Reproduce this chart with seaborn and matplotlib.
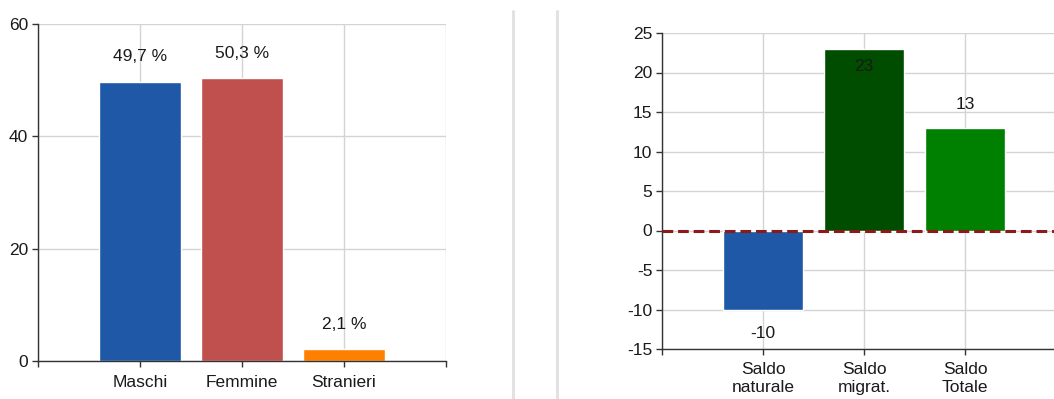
import numpy as np
import pandas as pd
import matplotlib
matplotlib.use("Agg")
import matplotlib.pyplot as plt
import seaborn as sns
from matplotlib.lines import Line2D

# === dati ===
left_categories = ["Maschi", "Femmine", "Stranieri"]
left_values = [49.7, 50.3, 2.1]
left_labels = ["49,7 %", "50,3 %", "2,1 %"]
left_colors = ["#1f58a6", "#c0504d", "#ff8000"]

right_categories = ["Saldo\nnaturale", "Saldo\nmigrat.", "Saldo\nTotale"]
right_values = [-10, 23, 13]
right_colors = ["#1f58a6", "#004d00", "#008000"]

sns.set_theme(style="white")
plt.rcParams["font.family"] = ["Liberation Sans", "DejaVu Sans"]
plt.rcParams["axes.unicode_minus"] = False

fig = plt.figure(figsize=(10.54, 3.99), dpi=100)
ax1 = fig.add_axes([38 / 1054, 1 - 361 / 399, 408 / 1054, 337 / 399])
ax2 = fig.add_axes([662 / 1054, 1 - 349 / 399, 394 / 1054, 316 / 399])

grid_kw = dict(color="#d4d4d4", linewidth=1.0)
txt = "#1a1a1a"
fs = 12.5


def style_axis(ax):
    ax.grid(True, **grid_kw)
    ax.set_axisbelow(True)
    for s in ["top", "right"]:
        ax.spines[s].set_visible(False)
    for s in ["left", "bottom"]:
        ax.spines[s].set_color("#333333")
        ax.spines[s].set_linewidth(1.0)
    ax.tick_params(axis="both", direction="out", length=4, width=1,
                   color="#333333", labelsize=fs, labelcolor=txt, pad=3,
                   bottom=True, left=True)
    ax.set_xlabel("")
    ax.set_ylabel("")


# === pannello sinistro ===
df_l = pd.DataFrame({"cat": left_categories, "val": left_values})
sns.barplot(data=df_l, x="cat", y="val", hue="cat", palette=left_colors,
            order=left_categories, legend=False, width=0.8, saturation=1,
            ax=ax1)
ax1.set_xlim(-1, 3)
ax1.set_ylim(0, 60)
ax1.set_yticks([0, 20, 40, 60])
ax1.set_xticks(range(-1, 4))
ax1.set_xticklabels([""] + left_categories + [""])
style_axis(ax1)
ax1.tick_params(axis="x", pad=6)
for i, (v, lab) in enumerate(zip(left_values, left_labels)):
    ax1.annotate(lab, (i, v), xytext=(0, 18), textcoords="offset points",
                 ha="center", va="center", fontsize=fs, color=txt)

# === pannello destro ===
df_r = pd.DataFrame({"cat": right_categories, "val": right_values})
sns.barplot(data=df_r, x="cat", y="val", hue="cat", palette=right_colors,
            order=right_categories, legend=False, width=0.8, saturation=1,
            ax=ax2)
ax2.set_xlim(-1, 2.9)
ax2.set_ylim(-15, 25)
ax2.set_yticks(np.arange(-15, 26, 5))
ax2.set_xticks(range(-1, 3))
ax2.set_xticklabels([""] + right_categories, linespacing=1.3)
style_axis(ax2)
ax2.tick_params(axis="x", pad=5)
ax2.axhline(0, color="#8b1a1a", linewidth=2.2, linestyle=(0, (3.5, 1.6)),
            zorder=5)
offsets = [-17, -13, 17]
for i, (v, off) in enumerate(zip(right_values, offsets)):
    ax2.annotate(str(v), (i, v), xytext=(0, off), textcoords="offset points",
                 ha="center", va="center", fontsize=fs, color=txt)

# linee di separazione
for xp in [513, 557]:
    fig.add_artist(Line2D([xp / 1054, xp / 1054], [0, 1 - 11 / 399],
                          color="#e2e2e2", linewidth=2.2))

plt.savefig("out.png", dpi=100)
